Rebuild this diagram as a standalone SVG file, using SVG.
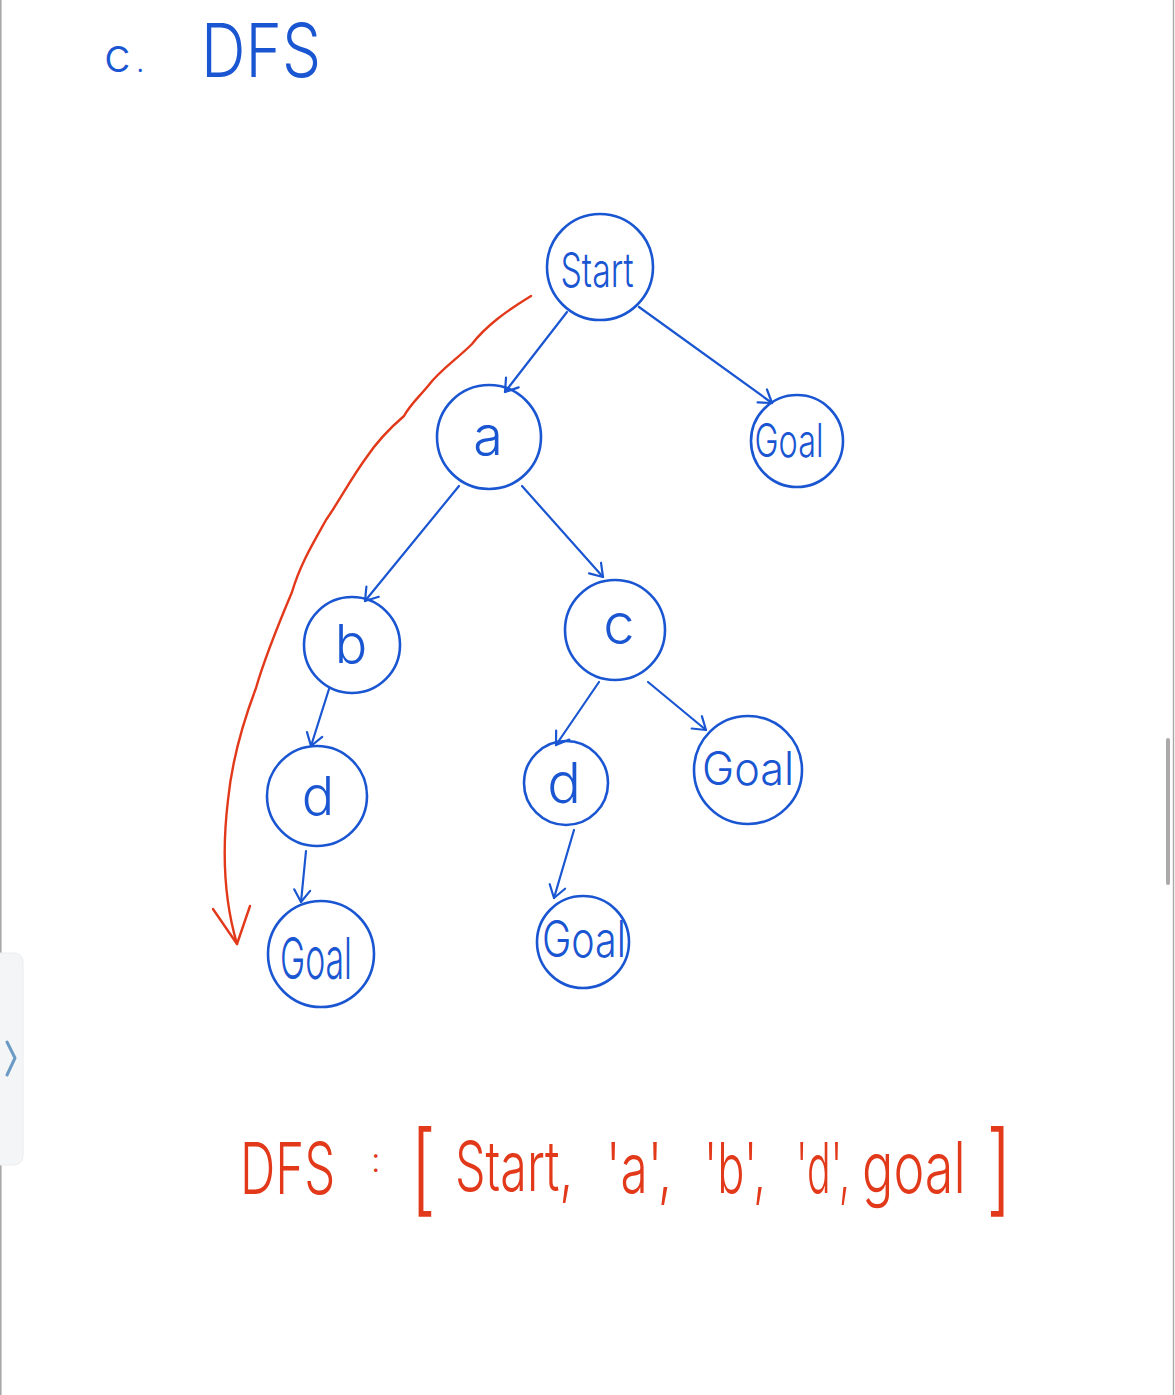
<svg xmlns="http://www.w3.org/2000/svg" width="1175" height="1395" viewBox="0 0 1175 1395">
<defs>
<style>
.node circle{fill:none;stroke:#1a56d2;stroke-width:2.6}
.lbl{font-family:Inter,"Liberation Sans","DejaVu Sans",sans-serif;font-weight:300;fill:#1a56d2;text-anchor:middle}
.edge{fill:none;stroke:#1a56d2;stroke-width:2.2;stroke-linecap:round;marker-end:url(#ah)}
.red{font-family:Inter,"Liberation Sans","DejaVu Sans",sans-serif;font-weight:300;fill:#e2391b}
.ttl{font-family:Inter,"Liberation Sans","DejaVu Sans",sans-serif;font-weight:300;fill:#1a56d2}
</style>
<marker id="ah" viewBox="-14 -10 16 20" refX="0" refY="0" markerWidth="16" markerHeight="20" markerUnits="userSpaceOnUse" orient="auto">
<path d="M-12,-8 L0,0 L-12,8" fill="none" stroke="#1a56d2" stroke-width="2.2" stroke-linecap="round" stroke-linejoin="round"/>
</marker>
</defs>
<rect width="1175" height="1395" fill="#ffffff"/>
<line x1="0.8" y1="0" x2="0.8" y2="1395" stroke="#a8a8a8" stroke-width="1.6"/>
<line x1="1173.5" y1="0" x2="1173.5" y2="1395" stroke="#a8a8a8" stroke-width="1.4"/>
<rect x="1166" y="738" width="4" height="147" rx="2" fill="#aaaaaa"/>
<rect x="-10" y="953" width="33" height="212" rx="9" fill="#f4f5f7" stroke="#ececee"/>
<path d="M7,1042 L15,1058 L7,1075" fill="none" stroke="#6b9ac4" stroke-width="3" stroke-linecap="round" stroke-linejoin="round"/>

<text class="ttl" x="104" y="72" font-size="48">c<tspan x="136" font-size="30">.</tspan></text>
<text class="ttl" x="201" y="77" font-size="74" textLength="120" lengthAdjust="spacingAndGlyphs">DFS</text>

<g id="connectors">
<line class="edge" x1="567" y1="312" x2="505" y2="392"/>
<line class="edge" x1="639" y1="307" x2="772" y2="403"/>
<line class="edge" x1="459" y1="486" x2="365" y2="601"/>
<line class="edge" x1="522" y1="486" x2="603" y2="577"/>
<line class="edge" x1="329" y1="689" x2="311" y2="746"/>
<line class="edge" x1="599" y1="682" x2="556" y2="745"/>
<line class="edge" x1="648" y1="682" x2="706" y2="730"/>
<line class="edge" x1="306" y1="851" x2="301" y2="902"/>
<line class="edge" x1="574" y1="830" x2="554" y2="898"/>
<path d="M531,296 C505,312 486,326 472,344 C456,360 440,370 428,386 C418,398 410,405 404,416 C390,428 378,440 366,458 C350,480 340,500 326,520 C312,545 300,565 292,592 C276,630 264,660 256,688 C242,725 232,760 228,800 C222,850 224,900 237,944" fill="none" stroke="#e2391b" stroke-width="2.4" stroke-linecap="round"/>
<path d="M213,909 L237,944 L250,906" fill="none" stroke="#e2391b" stroke-width="2.4" stroke-linecap="round" stroke-linejoin="round"/>
</g>

<g id="node-start" class="node"><circle cx="600" cy="267" r="53"/><text class="lbl" x="597" y="287" font-size="48" textLength="73" lengthAdjust="spacingAndGlyphs">Start</text></g>
<g id="node-a" class="node"><circle cx="489" cy="437" r="52"/><text class="lbl" x="488" y="455" font-size="54">a</text></g>
<g id="node-goal1" class="node"><circle cx="797" cy="441" r="46"/><text class="lbl" x="789" y="457" font-size="46" textLength="69" lengthAdjust="spacingAndGlyphs">Goal</text></g>
<g id="node-b" class="node"><circle cx="352" cy="645" r="48"/><text class="lbl" x="351" y="663" font-size="54">b</text></g>
<g id="node-c" class="node"><circle cx="615" cy="630" r="50"/><text class="lbl" x="619" y="644" font-size="56">c</text></g>
<g id="node-d1" class="node"><circle cx="317" cy="796" r="50"/><text class="lbl" x="318" y="815" font-size="54">d</text></g>
<g id="node-d2" class="node"><circle cx="566" cy="783" r="42"/><text class="lbl" x="564" y="803" font-size="56">d</text></g>
<g id="node-goal2" class="node"><circle cx="748" cy="770" r="54"/><text class="lbl" x="748" y="785" font-size="46" textLength="92" lengthAdjust="spacingAndGlyphs">Goal</text></g>
<g id="node-goal3" class="node"><circle cx="321" cy="954" r="53"/><text class="lbl" x="316" y="979" font-size="58" textLength="72" lengthAdjust="spacingAndGlyphs">Goal</text></g>
<g id="node-goal4" class="node"><circle cx="583" cy="942" r="46"/><text class="lbl" x="584" y="957" font-size="50" textLength="84" lengthAdjust="spacingAndGlyphs">Goal</text></g>

<g id="result">
<text class="red" transform="translate(240,1194) scale(0.67,1)" font-size="72" textLength="142" lengthAdjust="spacingAndGlyphs">DFS</text>
<text class="red" x="371" y="1172" font-size="34">:</text>
<text class="red" transform="translate(410,1203) scale(0.75,1)" font-size="100">[</text>
<text class="red" transform="translate(455,1191) scale(0.66,1)" font-size="70" textLength="179" lengthAdjust="spacingAndGlyphs">Start,</text>
<text class="red" transform="translate(606,1193) scale(0.76,1)" font-size="70" textLength="87" lengthAdjust="spacingAndGlyphs">'a',</text>
<text class="red" transform="translate(704,1193) scale(0.69,1)" font-size="70" textLength="90" lengthAdjust="spacingAndGlyphs">'b',</text>
<text class="red" transform="translate(796,1193) scale(0.6,1)" font-size="70" textLength="90" lengthAdjust="spacingAndGlyphs">'d',</text>
<text class="red" transform="translate(862,1193) scale(0.72,1)" font-size="72" textLength="144" lengthAdjust="spacingAndGlyphs">goal</text>
<text class="red" transform="translate(986,1203) scale(0.75,1)" font-size="100">]</text>
</g>
</svg>
